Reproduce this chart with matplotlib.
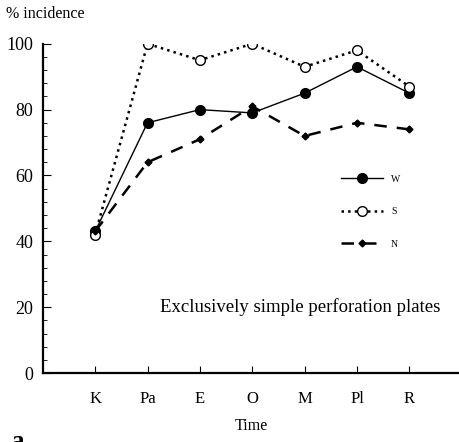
import numpy as np
import matplotlib.pyplot as plt
from matplotlib.ticker import MultipleLocator

plt.rcParams['font.family'] = ['Liberation Serif', 'DejaVu Serif']

# 数据
periods = ['K', 'Pa', 'E', 'O', 'M', 'Pl', 'R']
w_vals = [43, 76, 80, 79, 85, 93, 85]
s_vals = [42, 100, 95, 100, 93, 98, 87]
n_vals = [43, 64, 71, 81, 72, 76, 74]

fig = plt.figure(figsize=(4.6, 4.42), dpi=100)
ax = fig.add_axes([0.093, 0.156, 0.905, 0.745])

x = np.arange(len(periods))
ax.plot(x, w_vals, '-', color='black', lw=1.0, marker='o', ms=7,
        mfc='black', mec='black', label='W')
ax.plot(x, s_vals, ':', color='black', lw=1.8, marker='o', ms=7,
        mfc='white', mec='black', mew=1.0, label='S')
ax.plot(x, n_vals, '--', color='black', lw=1.8, dashes=(5, 4), marker='D', ms=3.5,
        mfc='black', mec='black', label='N')

ax.set_xlim(-1, 6.95)
ax.set_ylim(0, 100)
ax.set_xticks(x)
ax.set_xticklabels(periods, fontsize=12)
ax.yaxis.set_major_locator(MultipleLocator(20))
ax.yaxis.set_minor_locator(MultipleLocator(4))
ax.tick_params(axis='y', which='major', direction='in', length=6, labelsize=13, pad=7)
ax.tick_params(axis='y', which='minor', direction='in', length=3)
ax.tick_params(axis='x', direction='in', length=5, pad=13)
ax.spines['top'].set_visible(False)
ax.spines['right'].set_visible(False)
ax.spines['left'].set_linewidth(1.6)
ax.spines['bottom'].set_linewidth(1.6)

ax.set_xlabel('Time', fontsize=11.5, labelpad=8)
fig.text(0.012, 0.968, '% incidence', fontsize=11.5, ha='left', va='center')

leg = ax.legend(loc='center right', bbox_to_anchor=(0.88, 0.49), frameon=False,
                fontsize=7, handlelength=4.4, labelspacing=2.4, handletextpad=0.8)

ax.text(0.955, 0.2, 'Exclusively simple perforation plates', transform=ax.transAxes,
        ha='right', va='center', fontsize=13.5)

fig.text(0.025, 0.0, 'a', fontsize=18, fontweight='bold', ha='left', va='center')

fig.savefig('out.png', dpi=100)
